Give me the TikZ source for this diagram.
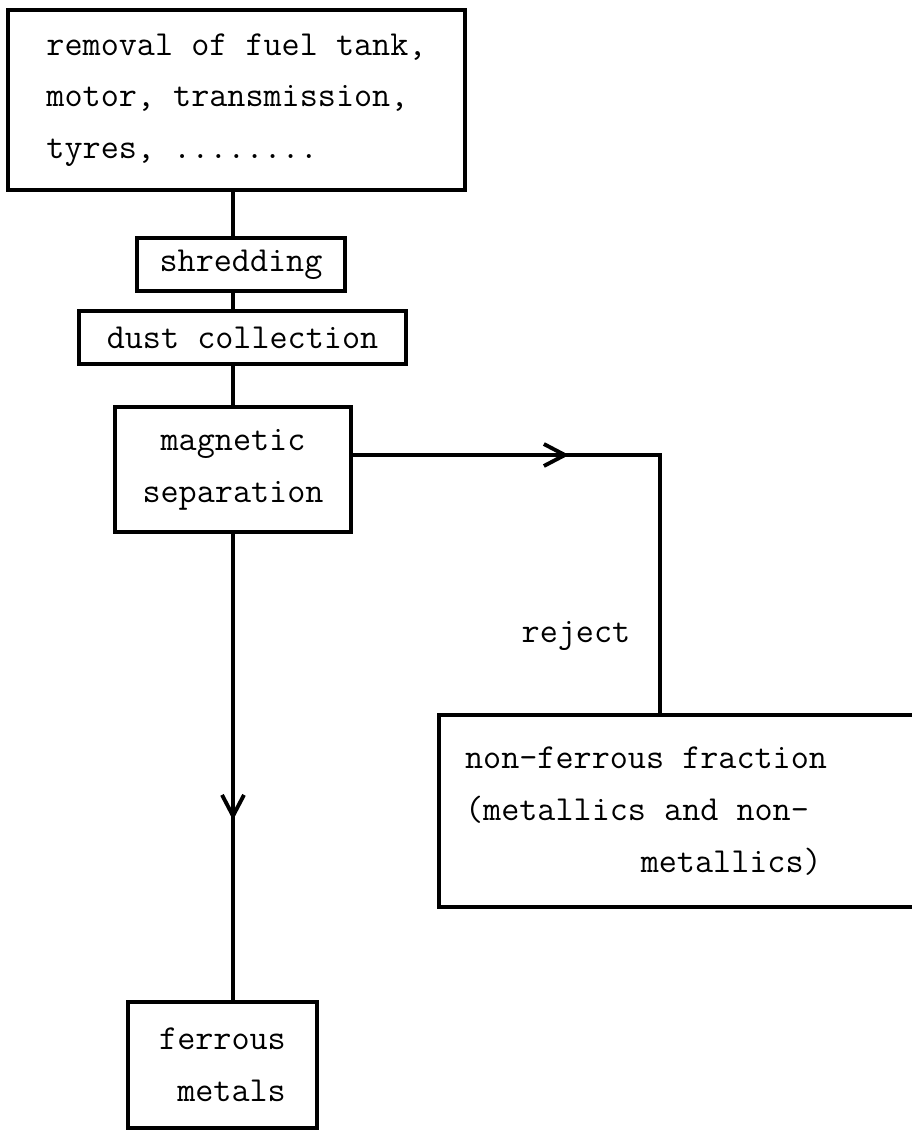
\documentclass[tikz,border=0pt]{standalone}
\usepackage{tikz}
\usetikzlibrary{arrows.meta, decorations.markings, positioning}

\begin{document}
\begin{tikzpicture}[
  x=0.02cm, y=-0.02cm,
  box/.style   ={rectangle, draw=black, line width=2.4pt, inner sep=0pt,
                 align=center, font=\ttfamily\fontsize{20}{29.5}\selectfont},
  lbl/.style   ={inner sep=0pt, font=\ttfamily\fontsize{20}{29.5}\selectfont},
  conn/.style  ={draw=black, line width=2pt},
  midarr/.style={postaction={decorate}, decoration={markings,
                 mark=at position #1 with
                 {\arrow{Straight Barb[length=0.42cm, width=0.44cm, line width=2.2pt]}}}},
]
\useasboundingbox (0,0) rectangle (912,1137);
\clip (0,0) rectangle (912,1137);

%% === Main line ===
\node[box, align=left, minimum width=9.14cm, minimum height=3.6cm]
            (rem)    at (236.5, 100) {removal of fuel tank,\\motor, transmission,\\tyres, ........};
\node[box, minimum width=4.16cm, minimum height=1.06cm]
            (shred)  at (241, 264.5) {shredding};
\node[box, minimum width=6.54cm, minimum height=1.06cm]
            (dust)   at (242.5, 337.5) {dust collection};
\node[box, minimum width=4.72cm, minimum height=2.5cm]
            (mag)    at (233, 469.5) {magnetic\\separation};
\node[box, align=right, minimum width=3.78cm, minimum height=2.52cm]
            (fer)    at (222.5, 1065) {ferrous\\metals};

%% === Reject branch ===
\node[box, anchor=north west, align=flush left, inner xsep=0.52cm,
      text width=9.36cm, minimum height=3.84cm]
            (nonfer) at (437, 713) {non-ferrous fraction\\(metallics and non-\\\hspace*{5em}metallics)};
\coordinate (turn) at (660, 455);

\draw[conn] (rem.south -| mag.north)   -- (shred.north -| mag.north);
\draw[conn] (shred.south -| mag.north) -- (dust.north -| mag.north);
\draw[conn] (dust.south -| mag.north)  -- (mag.north);
\draw[conn, midarr=5.72cm] (mag.south) -- (fer.north -| mag.south);
\draw[conn, midarr=4.32cm] (mag.east |- turn) -- (turn)
  -- node[lbl, pos=0.70, left=0.56cm] (rej) {reject} (turn |- nonfer.north);

\end{tikzpicture}
\end{document}
